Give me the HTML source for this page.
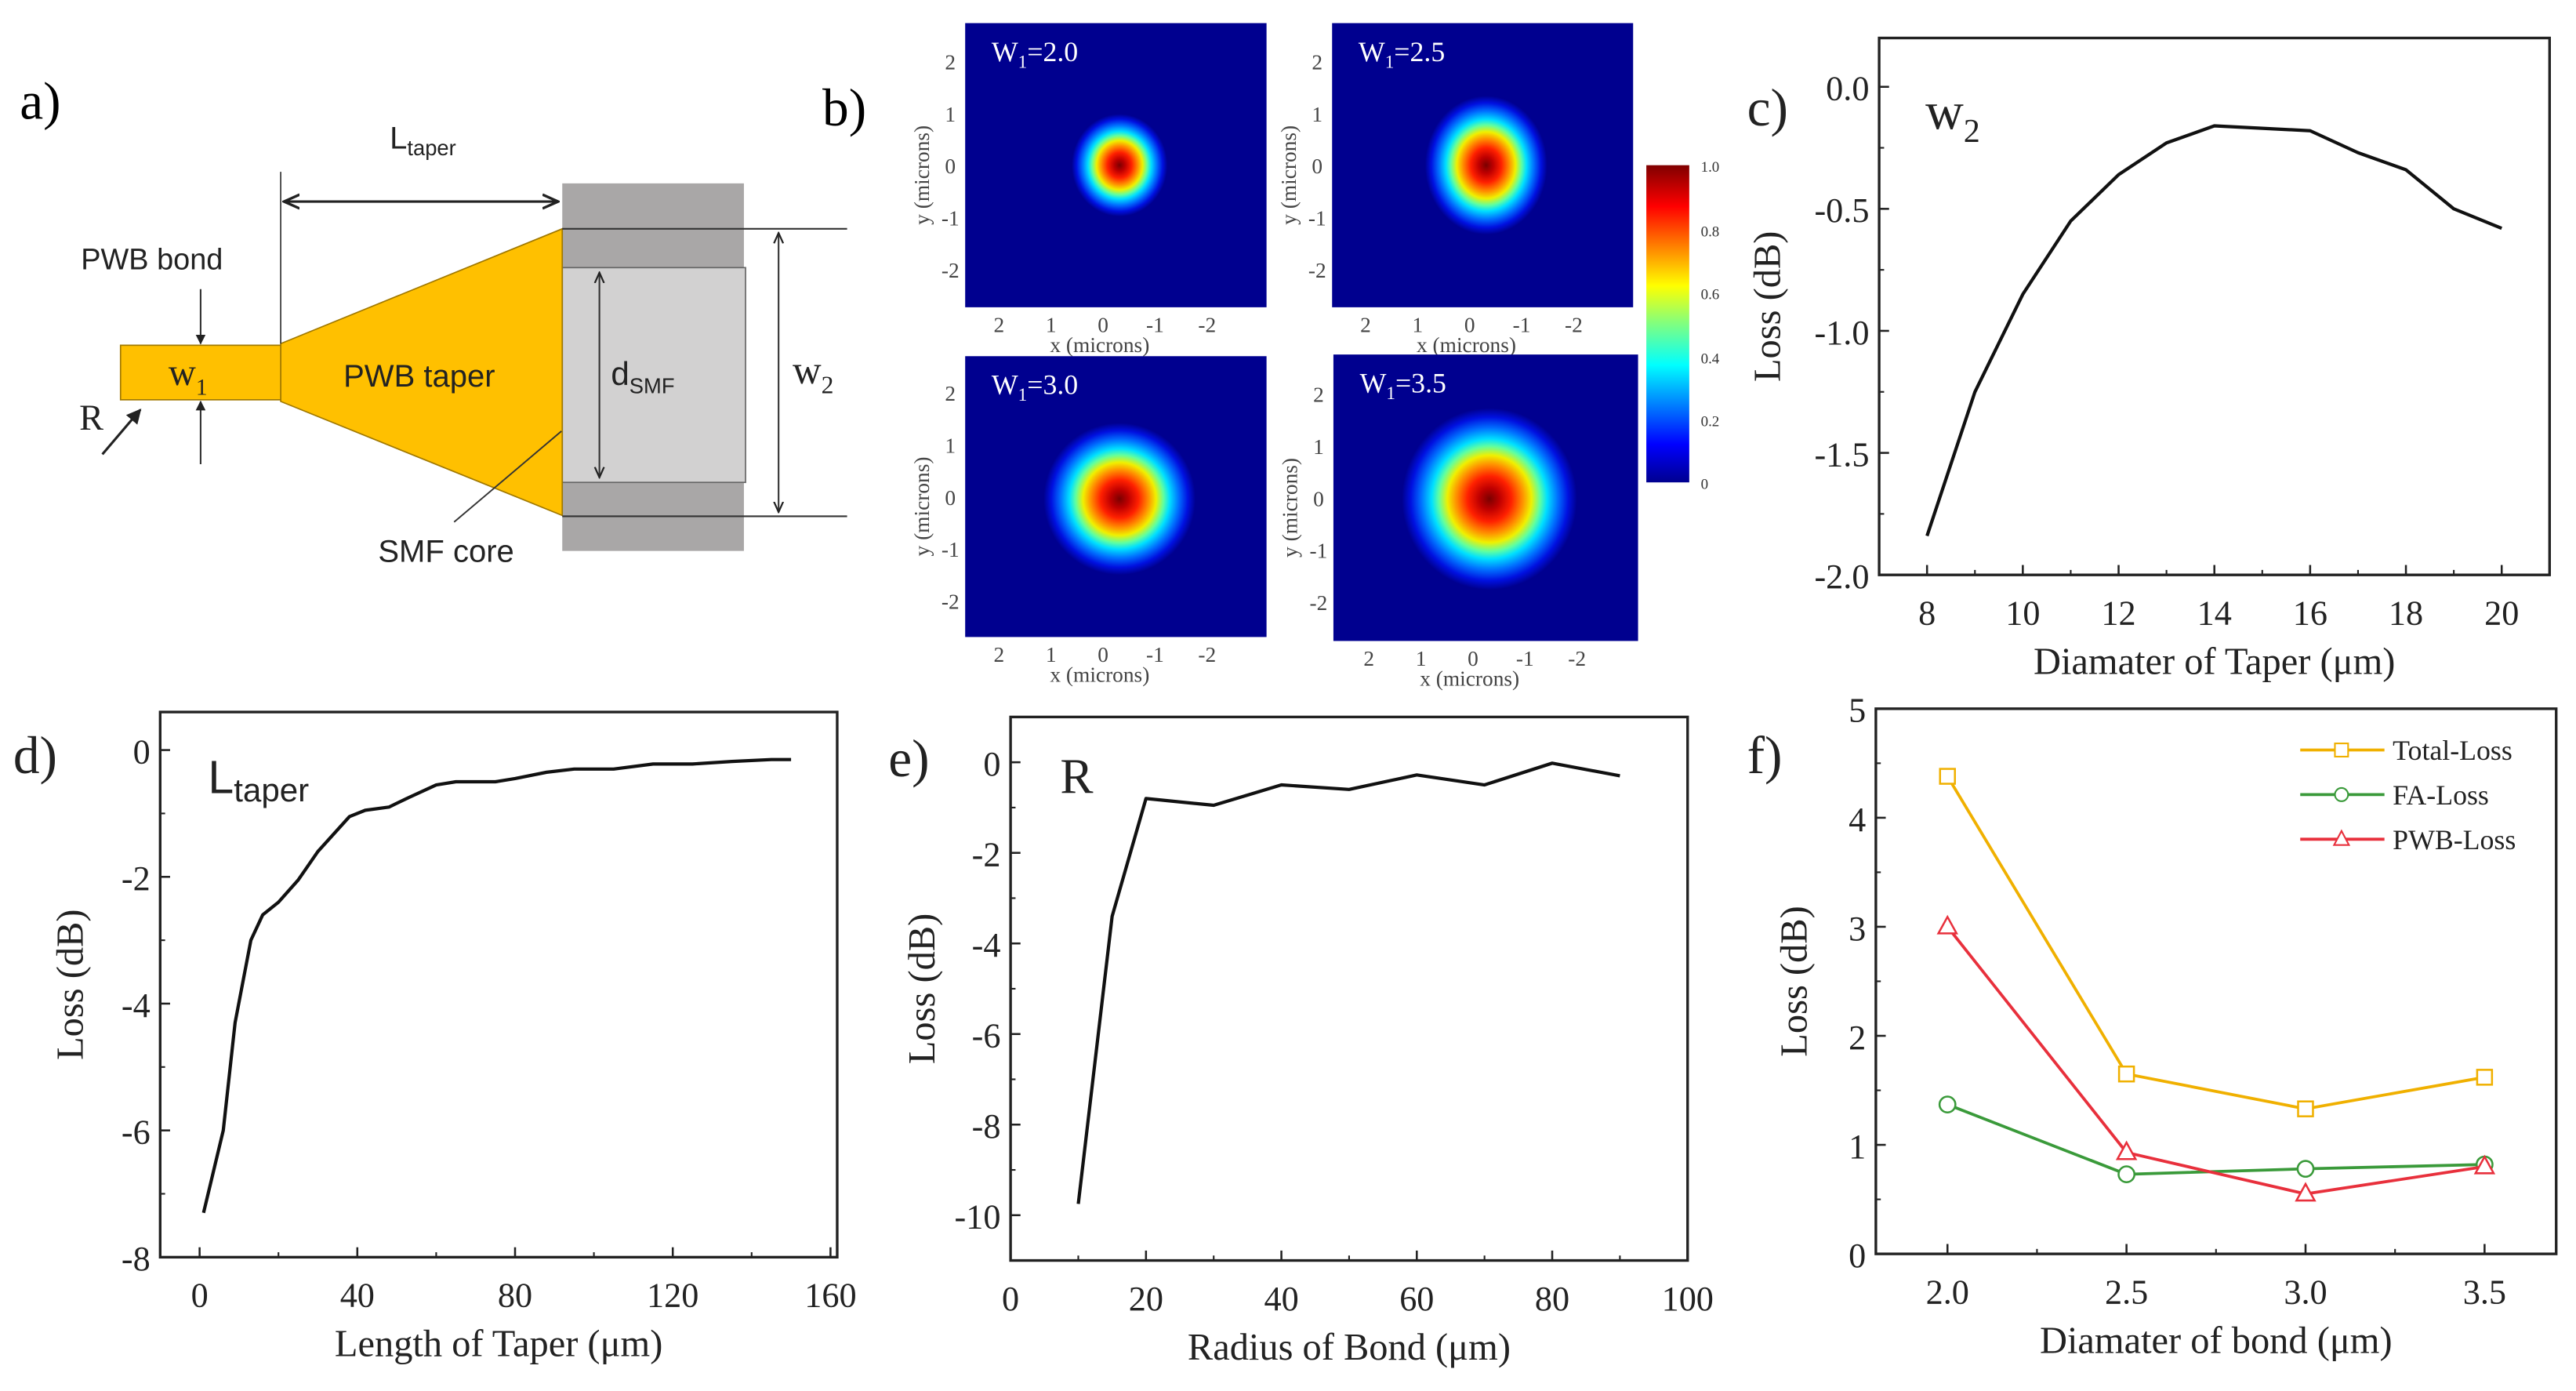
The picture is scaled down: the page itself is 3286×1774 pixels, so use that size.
<!DOCTYPE html>
<html><head><meta charset="utf-8"><style>
html,body{margin:0;padding:0;background:#fff;}
svg{display:block;}
.serif{font-family:"Liberation Serif",serif;}
.sans{font-family:"Liberation Sans",sans-serif;}
</style></head><body>
<svg id="fig" width="3286" height="1774" viewBox="0 0 1560 842" preserveAspectRatio="none" xmlns="http://www.w3.org/2000/svg">
<defs>
<radialGradient id="jet">
<stop offset="0" stop-color="#7a0000"/>
<stop offset="0.12" stop-color="#c00000"/>
<stop offset="0.25" stop-color="#ff2000"/>
<stop offset="0.38" stop-color="#ff9000"/>
<stop offset="0.48" stop-color="#f0f000"/>
<stop offset="0.58" stop-color="#60ffa0"/>
<stop offset="0.66" stop-color="#00e0ff"/>
<stop offset="0.78" stop-color="#0070ff"/>
<stop offset="0.9" stop-color="#0010e0"/>
<stop offset="1" stop-color="#00008f"/>
</radialGradient>
<linearGradient id="cbar" x1="0" y1="1" x2="0" y2="0">
<stop offset="0" stop-color="#00008f"/>
<stop offset="0.12" stop-color="#0000ff"/>
<stop offset="0.37" stop-color="#00ffff"/>
<stop offset="0.5" stop-color="#80ff80"/>
<stop offset="0.62" stop-color="#ffff00"/>
<stop offset="0.87" stop-color="#ff0000"/>
<stop offset="1" stop-color="#800000"/>
</linearGradient>
<marker id="ah" viewBox="0 0 10 10" refX="9" refY="5" markerWidth="7" markerHeight="7" orient="auto-start-reverse"><path d="M0,1 L9,5 L0,9" fill="none" stroke="#222" stroke-width="1.5"/></marker>
<marker id="ahs" viewBox="0 0 10 10" refX="9" refY="5" markerWidth="6" markerHeight="6" orient="auto-start-reverse"><path d="M0,0 L10,5 L0,10 z" fill="#222"/></marker>
</defs>

<!-- Panel a: schematic -->
<g>
<text class="serif" x="12" y="72" font-size="32">a)</text>
<rect x="340.5" y="111" width="110" height="222.5" fill="#a9a7a7"/>
<rect x="340.5" y="162" width="111" height="130" fill="#d2d1d1" stroke="#666" stroke-width="0.8"/>
<polygon points="170,208 340.5,138.5 340.5,312 170,243" fill="#ffc000" stroke="#a07800" stroke-width="0.8"/>
<rect x="73" y="209" width="97" height="33" fill="#ffc000" stroke="#a07800" stroke-width="0.8"/>
<line x1="340.5" y1="138.5" x2="513" y2="138.5" stroke="#333" stroke-width="1"/>
<line x1="340.5" y1="312.5" x2="513" y2="312.5" stroke="#333" stroke-width="1"/>
<line x1="170" y1="104" x2="170" y2="208" stroke="#333" stroke-width="0.8"/>
<line x1="172" y1="122" x2="338" y2="122" stroke="#222" stroke-width="1.5" marker-start="url(#ah)" marker-end="url(#ah)"/>
<text class="sans" x="236" y="90" font-size="19" fill="#222">L<tspan font-size="13" dy="4">taper</tspan></text>
<line x1="471.5" y1="141" x2="471.5" y2="310" stroke="#333" stroke-width="1" marker-start="url(#ah)" marker-end="url(#ah)"/>
<text class="serif" x="480" y="232" font-size="24" fill="#222">w<tspan font-size="15" dy="6">2</tspan></text>
<line x1="363" y1="165" x2="363" y2="289" stroke="#333" stroke-width="1" marker-start="url(#ah)" marker-end="url(#ah)"/>
<text class="sans" x="370" y="233" font-size="20" fill="#222">d<tspan font-size="13" dy="5">SMF</tspan></text>
<text class="sans" x="49" y="163" font-size="18" fill="#222">PWB bond</text>
<line x1="121.5" y1="175" x2="121.5" y2="208" stroke="#333" stroke-width="1" marker-end="url(#ahs)"/>
<line x1="121.5" y1="281" x2="121.5" y2="243" stroke="#333" stroke-width="1" marker-end="url(#ahs)"/>
<text class="serif" x="102" y="233" font-size="23" fill="#222">w<tspan font-size="14" dy="6">1</tspan></text>
<text class="serif" x="48" y="260" font-size="22" fill="#222">R</text>
<line x1="62" y1="275" x2="85" y2="248" stroke="#222" stroke-width="1.5" marker-end="url(#ahs)"/>
<text class="sans" x="208" y="234" font-size="19" fill="#222">PWB taper</text>
<line x1="275" y1="316" x2="340" y2="261" stroke="#333" stroke-width="0.9"/>
<text class="sans" x="229" y="340" font-size="19" fill="#222">SMF core</text>
</g>

<!-- Panel b labels -->
<text class="serif" x="498" y="76" font-size="32">b)</text>
<g id="panelB"></g>

<!-- colorbar -->
<g>
<rect x="997" y="100" width="26" height="192" fill="url(#cbar)"/>
<g class="serif" font-size="9" fill="#333">
<text x="1030" y="104">1.0</text><text x="1030" y="143">0.8</text><text x="1030" y="181">0.6</text><text x="1030" y="220">0.4</text><text x="1030" y="258">0.2</text><text x="1030" y="296">0</text>
</g>
</g>

<g id="panelC"></g>
<g id="panelD"></g>
<g id="panelE"></g>
<g id="panelF"></g>
</svg>

<script>
// ---- Panel b data ----
const bWidths = ["2.0", "2.5", "3.0", "3.5"];
const bRadiusX = [29, 37, 46, 53];
const bRadiusY = [31, 42, 46, 55];

// ---- Panel c data ----
const cX = [8, 9, 10, 11, 12, 13, 14, 15, 16, 17, 18, 19, 20];
const cY = [-1.84, -1.25, -0.85, -0.55, -0.36, -0.23, -0.16, -0.17, -0.18, -0.27, -0.34, -0.5, -0.58];
const cXTicks = ["8", "10", "12", "14", "16", "18", "20"];
const cYTicks = ["0.0", "-0.5", "-1.0", "-1.5", "-2.0"];

// ---- Panel d data ----
const dX = [1, 6, 9, 13, 16, 20, 25, 30, 38, 42, 48, 53, 60, 65, 75, 80, 88, 95, 105, 115, 125, 135, 145, 150];
const dY = [-7.3, -6.0, -4.3, -3.0, -2.6, -2.4, -2.05, -1.6, -1.05, -0.95, -0.9, -0.75, -0.55, -0.5, -0.5, -0.45, -0.35, -0.3, -0.3, -0.22, -0.22, -0.18, -0.15, -0.15];
const dXTicks = ["0", "40", "80", "120", "160"];
const dYTicks = ["0", "-2", "-4", "-6", "-8"];

// ---- Panel e data ----
const eX = [10, 15, 20, 30, 40, 50, 60, 70, 80, 90];
const eY = [-9.75, -3.4, -0.8, -0.95, -0.5, -0.6, -0.28, -0.5, -0.02, -0.3];
const eXTicks = ["0", "20", "40", "60", "80", "100"];
const eYTicks = ["0", "-2", "-4", "-6", "-8", "-10"];

// ---- Panel f data ----
const fX = [2.0, 2.5, 3.0, 3.5];
const fTotal = [4.38, 1.65, 1.33, 1.62];
const fFA = [1.37, 0.73, 0.78, 0.82];
const fPWB = [3.0, 0.93, 0.55, 0.80];
const fSeriesNames = ["Total-Loss", "FA-Loss", "PWB-Loss"];
const fXTicks = ["2.0", "2.5", "3.0", "3.5"];
const fYTicks = ["0", "1", "2", "3", "4", "5"];

const NS = "http://www.w3.org/2000/svg";
function mk(tag, attrs, parent) {
  const e = document.createElementNS(NS, tag);
  for (const k in attrs) e.setAttribute(k, attrs[k]);
  if (parent) parent.appendChild(e);
  return e;
}

// ---- Panel b ----
(function () {
  const g = document.getElementById("panelB");
  const boxes = [[584.5, 14, 767, 186], [806.7, 14, 989, 186], [584.5, 215.6, 767, 385.6], [807.5, 214.6, 992, 388]];
  const centers = [[678, 100], [900, 100], [678, 302], [902, 302]];
  for (let i = 0; i < 4; i++) {
    const [x0, y0, x1, y1] = boxes[i];
    const sub = mk("g", {}, g);
    
    
    const bg = mk("rect", { x: x0, y: y0, width: x1 - x0, height: y1 - y0, fill: "#00008f" }, sub);
    
    
    const spot = mk("ellipse", { cx: centers[i][0], cy: centers[i][1], rx: bRadiusX[i], ry: bRadiusY[i], fill: "url(#jet)" }, sub);
    
    
    const lab = mk("text", { x: x0 + 16, y: y0 + 23, "font-size": 17, fill: "#fff", class: "serif" }, sub);
    lab.innerHTML = 'W<tspan font-size="11" dy="4">1</tspan><tspan dy="-4">=' + bWidths[i] + '</tspan>';
    
    
    const cx = centers[i][0], cy = (y0 + y1) / 2, step = 31.5;
    const tk = ["2", "1", "0", "-1", "-2"];
    for (let j = 0; j < 5; j++) {
      const t = mk("text", { x: x0 - 9, y: cy + (j - 2) * step + 5, "font-size": 13, fill: "#444", class: "serif", "text-anchor": "middle" }, sub);
      t.textContent = tk[j];
      
      
      const u = mk("text", { x: cx - 10 + (j - 2) * step, y: y1 + 15, "font-size": 13, fill: "#444", class: "serif", "text-anchor": "middle" }, sub);
      u.textContent = tk[j];
      
      
    }
    const xl = mk("text", { x: cx - 12, y: y1 + 27, "font-size": 13, fill: "#444", class: "serif", "text-anchor": "middle" }, sub);
    xl.textContent = "x  (microns)";
    
    
    const yl = mk("text", { x: 0, y: 0, "font-size": 13, fill: "#444", class: "serif", "text-anchor": "middle", transform: "translate(" + (x0 - 22) + "," + (cy + 6) + ") rotate(-90)" }, sub);
    yl.textContent = "y  (microns)";
    
    
  }
})();

// ---- generic line chart ----
function chart(gid, o) {
  const g = document.getElementById(gid);
  const sx = v => o.L + (v - o.x0) / (o.x1 - o.x0) * (o.R - o.L);
  const sy = v => o.B - (v - o.y0) / (o.y1 - o.y0) * (o.B - o.T);
  const frame = mk("rect", { x: o.L, y: o.T, width: o.R - o.L, height: o.B - o.T, fill: "none", stroke: "#222", "stroke-width": 1.6 }, g);
  
  
  o.xTicks.forEach(s => {
    const v = parseFloat(s), x = sx(v);
    mk("line", { x1: x, y1: o.B, x2: x, y2: o.B - 6, stroke: "#222", "stroke-width": 1.2 }, g);
    const t = mk("text", { x: x, y: o.B + 30, "font-size": 21, "text-anchor": "middle", class: "serif", fill: "#222" }, g);
    t.textContent = s;
    
    
  });
  for (let v = o.xMinor0; v <= o.x1 + 1e-9; v += o.xMinorStep) {
    const x = sx(v);
    mk("line", { x1: x, y1: o.B, x2: x, y2: o.B - 3, stroke: "#222", "stroke-width": 1 }, g);
  }
  o.yTicks.forEach(s => {
    const v = parseFloat(s), y = sy(v);
    mk("line", { x1: o.L, y1: y, x2: o.L + 6, y2: y, stroke: "#222", "stroke-width": 1.2 }, g);
    const t = mk("text", { x: o.L - 6, y: y + 8, "font-size": 21, "text-anchor": "end", class: "serif", fill: "#222" }, g);
    t.textContent = s;
    
    
  });
  for (let v = o.yMinor0; v <= o.y1 + 1e-9; v += o.yMinorStep) {
    const y = sy(v);
    mk("line", { x1: o.L, y1: y, x2: o.L + 3, y2: y, stroke: "#222", "stroke-width": 1 }, g);
  }
  const xt = mk("text", { x: (o.L + o.R) / 2, y: o.B + 60, "font-size": 23, "text-anchor": "middle", class: "serif", fill: "#222" }, g);
  xt.textContent = o.xTitle;
  
  
  const yt = mk("text", { x: 0, y: 0, "font-size": 23, "text-anchor": "middle", class: "serif", fill: "#222", transform: "translate(" + o.yTitleX + "," + ((o.T + o.B) / 2) + ") rotate(-90)" }, g);
  yt.textContent = "Loss (dB)";
  
  
  return { sx, sy, g };
}
function drawLine(c, xs, ys, color, w, name) {
  const p = mk("polyline", { points: xs.map((x, i) => c.sx(x) + "," + c.sy(ys[i])).join(" "), fill: "none", stroke: color, "stroke-width": w, "stroke-linejoin": "round" }, c.g);
  
  
}

// c
const cc = chart("panelC", { L: 1138, R: 1544, T: 23, B: 348, x0: 7, x1: 21, y0: -2.0, y1: 0.2, xTicks: cXTicks, yTicks: cYTicks, xMinor0: 8, xMinorStep: 1, yMinor0: -2.0, yMinorStep: 0.25, xTitle: "Diamater of Taper (\u03bcm)", yTitleX: 1078 });
drawLine(cc, cX, cY, "#111", 2, "loss-vs-taper-diameter-line");
// d
const dc = chart("panelD", { L: 97, R: 507, T: 431, B: 761, x0: -10, x1: 161.7, y0: -8, y1: 0.6, xTicks: dXTicks, yTicks: dYTicks, xMinor0: 0, xMinorStep: 20, yMinor0: -8, yMinorStep: 1, xTitle: "Length of Taper (\u03bcm)", yTitleX: 50 });
drawLine(dc, dX, dY, "#111", 2, "loss-vs-taper-length-line");
// e
const ec = chart("panelE", { L: 612, R: 1022, T: 434, B: 763, x0: 0, x1: 100, y0: -11, y1: 1, xTicks: eXTicks, yTicks: eYTicks, xMinor0: 0, xMinorStep: 10, yMinor0: -11, yMinorStep: 1, xTitle: "Radius of Bond (\u03bcm)", yTitleX: 566 });
drawLine(ec, eX, eY, "#111", 2, "loss-vs-bond-radius-line");
// f
const fc = chart("panelF", { L: 1136, R: 1548, T: 429, B: 759, x0: 1.8, x1: 3.7, y0: 0, y1: 5, xTicks: fXTicks, yTicks: fYTicks, xMinor0: 2.0, xMinorStep: 0.25, yMinor0: 0, yMinorStep: 0.5, xTitle: "Diamater of bond (\u03bcm)", yTitleX: 1094 });
const fColors = ["#f0b000", "#3a9a3a", "#e8303c"];
[fTotal, fFA, fPWB].forEach((ys, k) => {
  drawLine(fc, fX, ys, fColors[k], 1.8, "series-" + fSeriesNames[k].toLowerCase());
  fX.forEach((x, i) => {
    const px = fc.sx(x), py = fc.sy(ys[i]);
    let m;
    if (k === 0) m = mk("rect", { x: px - 4.5, y: py - 4.5, width: 9, height: 9, fill: "#fff", stroke: fColors[k], "stroke-width": 1.2 }, fc.g);
    else if (k === 1) m = mk("circle", { cx: px, cy: py, r: 4.8, fill: "#fff", stroke: fColors[k], "stroke-width": 1.2 }, fc.g);
    else m = mk("polygon", { points: px + "," + (py - 6) + " " + (px + 5.5) + "," + (py + 4) + " " + (px - 5.5) + "," + (py + 4), fill: "#fff", stroke: fColors[k], "stroke-width": 1.2 }, fc.g);
    
    
  });
});
// legend
(function () {
  const lg = mk("g", {}, fc.g);
  
  
  const ly = [454, 481, 508];
  for (let k = 0; k < 3; k++) {
    const e = mk("g", {}, lg);
    
    
    mk("line", { x1: 1393, y1: ly[k], x2: 1444, y2: ly[k], stroke: fColors[k], "stroke-width": 1.8 }, e);
    const px = 1418, py = ly[k];
    if (k === 0) mk("rect", { x: px - 4, y: py - 4, width: 8, height: 8, fill: "#fff", stroke: fColors[k] }, e);
    else if (k === 1) mk("circle", { cx: px, cy: py, r: 4, fill: "#fff", stroke: fColors[k] }, e);
    else mk("polygon", { points: px + "," + (py - 5) + " " + (px + 4.5) + "," + (py + 3.5) + " " + (px - 4.5) + "," + (py + 3.5), fill: "#fff", stroke: fColors[k] }, e);
    const t = mk("text", { x: 1449, y: py + 6, "font-size": 17, class: "serif", fill: "#222" }, e);
    t.textContent = fSeriesNames[k];
  }
})();

// panel labels and inline annotations
function txt(x, y, s, size, name, html) {
  const t = mk("text", { x: x, y: y, "font-size": size, class: "serif", fill: "#222" }, document.getElementById("fig"));
  if (html) t.innerHTML = s; else t.textContent = s;
  
  
}
txt(1058, 76, "c)", 32, "panel-c-label");
txt(1166, 78, 'w<tspan font-size="20" dy="8">2</tspan>', 32, "panel-c-annotation", true);
txt(8, 468, "d)", 32, "panel-d-label");
txt(538, 470, "e)", 32, "panel-e-label");
txt(1058, 468, "f)", 32, "panel-f-label");
txt(642, 480, "R", 30, "panel-e-annotation");
const lt = mk("text", { x: 126, y: 480, "font-size": 28, class: "sans", fill: "#222" }, document.getElementById("fig"));
lt.innerHTML = 'L<tspan font-size="20" dy="5">taper</tspan>';


</script>
</body></html>
